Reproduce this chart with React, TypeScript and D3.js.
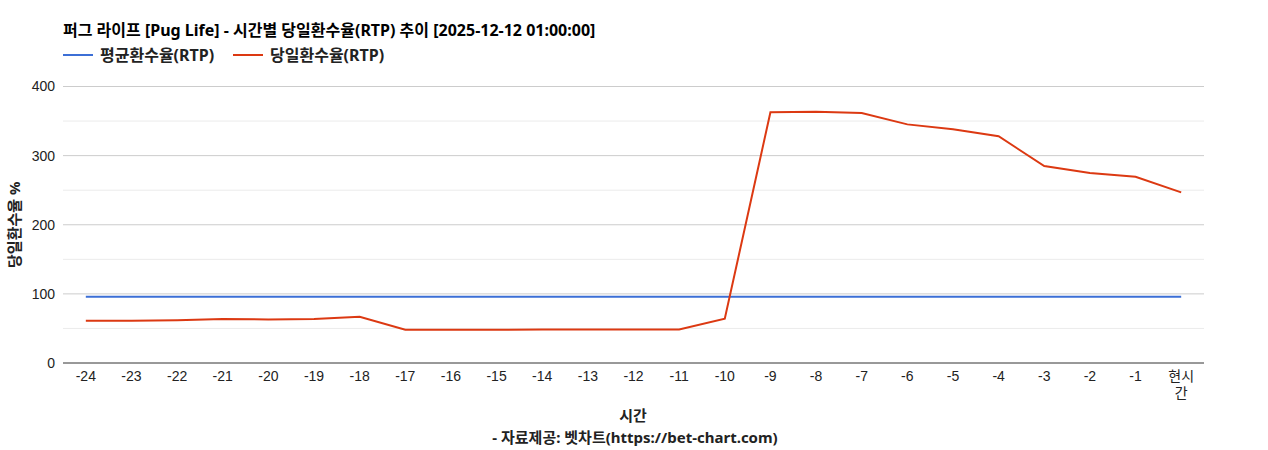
import React, { useMemo } from "react";
import * as d3 from "d3";

const W = 1268;
const H = 450;

const categories = [
  "-24", "-23", "-22", "-21", "-20", "-19", "-18", "-17", "-16", "-15",
  "-14", "-13", "-12", "-11", "-10", "-9", "-8", "-7", "-6", "-5",
  "-4", "-3", "-2", "-1", "현시간",
];
const avgRtp = [
  96, 96, 96, 96, 96, 96, 96, 96, 96, 96, 96, 96, 96, 96, 96, 96, 96, 96, 96,
  96, 96, 96, 96, 96, 96,
];
const todayRtp = [
  61, 61, 62, 63.5, 63, 63.5, 67, 48, 48, 48, 48.5, 48.5, 48.5, 48.5, 64,
  362.6, 363.5, 361.6, 345.2, 338, 328, 285, 274.8, 269.5, 246.9,
];
const yTicks = [0, 100, 200, 300, 400];
const yMinor = [50, 150, 250, 350];

const seriesNames = ["평균환수율(RTP)", "당일환수율(RTP)"];
const colors = ["#3c6fd6", "#dc3912"];
const title = "퍼그 라이프 [Pug Life] - 시간별 당일환수율(RTP) 추이 [2025-12-12 01:00:00]";

const font = "Arial, 'Liberation Sans', 'Noto Sans CJK KR', sans-serif";
const boldFont = "'Noto Sans', 'Noto Sans CJK KR', sans-serif";

export default function App() {
  const margin = { left: 63, right: 64, top: 86.5, bottom: 87 };
  const innerW = W - margin.left - margin.right;
  const innerH = H - margin.top - margin.bottom;

  const x = useMemo(
    () => d3.scaleBand().domain(categories).range([0, innerW]),
    [innerW]
  );
  const y = useMemo(
    () => d3.scaleLinear().domain([0, 400]).range([innerH, 0]),
    [innerH]
  );

  const line = d3
    .line<number>()
    .x((_, i) => (x(categories[i]) ?? 0) + x.bandwidth() / 2)
    .y((d) => y(d));

  return (
    <svg width={W} height={H} style={{ position: "absolute", left: 0, top: 0, background: "#fff" }}>
      <text x={63} y={36} fontFamily={boldFont} fontSize={16} fontWeight="bold" fill="#000">
        {title}
      </text>
      {/* legend */}
      {seriesNames.map((name, i) => {
        const lx = i === 0 ? 63 : 233;
        return (
          <g key={name}>
            <line x1={lx} x2={lx + 30} y1={55} y2={55} stroke={colors[i]} strokeWidth={2} />
            <text x={lx + 37} y={60.5} fontFamily={boldFont} fontSize={16} fontWeight="bold" fill="#222">
              {name}
            </text>
          </g>
        );
      })}
      <g transform={`translate(${margin.left},${margin.top})`}>
        {yMinor.map((t) => (
          <line key={t} x1={0} x2={innerW} y1={y(t)} y2={y(t)} stroke="#ebebeb" />
        ))}
        {yTicks.map((t) => (
          <g key={t}>
            {t > 0 && (
              <line x1={0} x2={innerW} y1={y(t)} y2={y(t)} stroke="#cccccc" />
            )}
            <text
              x={-8}
              y={y(t)}
              dy="0.35em"
              textAnchor="end"
              fontFamily={font}
              fontSize={14}
              fill="#222"
            >
              {t}
            </text>
          </g>
        ))}
        <path d={line(avgRtp) ?? ""} fill="none" stroke={colors[0]} strokeWidth={2} />
        <path d={line(todayRtp) ?? ""} fill="none" stroke={colors[1]} strokeWidth={2} />
        <line x1={0} x2={innerW} y1={innerH} y2={innerH} stroke="#333" />
        {categories.map((c) => {
          const cx = (x(c) ?? 0) + x.bandwidth() / 2;
          const lines = !c.startsWith("-") ? [c.slice(0, 2), c.slice(2)] : [c];
          return (
            <text
              key={c}
              x={cx}
              y={innerH + 18}
              textAnchor="middle"
              fontFamily={font}
              fontSize={14}
              fill="#222"
            >
              {lines.map((l, k) => (
                <tspan key={k} x={cx} dy={k === 0 ? 0 : 17}>
                  {l}
                </tspan>
              ))}
            </text>
          );
        })}
      </g>
      <text
        transform={`translate(20,${margin.top + innerH / 2}) rotate(-90)`}
        textAnchor="middle"
        fontFamily={boldFont}
        fontSize={15}
        fontWeight="bold"
        fill="#222"
      >
        당일환수율 %
      </text>
      <text x={633} y={421} textAnchor="middle" fontFamily={boldFont} fontSize={15} fontWeight="bold" fill="#222">
        시간
      </text>
      <text x={635} y={443} textAnchor="middle" fontFamily={boldFont} fontSize={15} fontWeight="bold" fill="#222">
        - 자료제공: 벳차트(https://bet-chart.com)
      </text>
    </svg>
  );
}
